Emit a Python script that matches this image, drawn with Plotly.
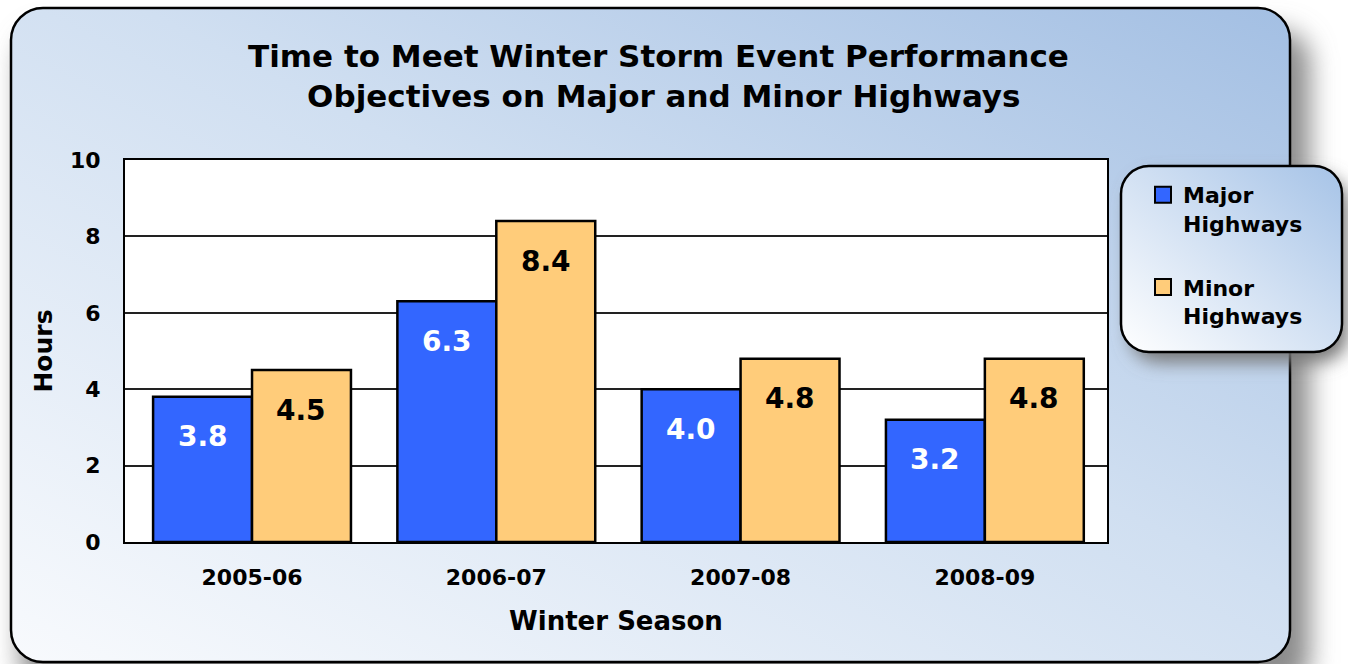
import base64
import plotly.graph_objects as go

seasons = ["2005-06", "2006-07", "2007-08", "2008-09"]
major = [3.8, 6.3, 4.0, 3.2]
minor = [4.5, 8.4, 4.8, 4.8]
series_names = ["Major<br>Highways", "Minor<br>Highways"]
y_ticks = [0, 2, 4, 6, 8, 10]

W, H = 1348, 664
ML, MR, MT, MB = 125, 241, 160, 122
PW, PH = W - ML - MR, H - MT - MB
X_RANGE = [-0.52, 3.5]
BARGAP = 0.19

FONT = "'DejaVu Sans', sans-serif"
BLUE = "#3366ff"
YELLOW = "#ffcc7a"

svg = f'''<svg xmlns="http://www.w3.org/2000/svg" width="{W}" height="{H}" viewBox="0 0 {W} {H}">
<defs>
<linearGradient id="g1" x1="0" y1="1" x2="1" y2="0">
<stop offset="0" stop-color="#f8fafd"/>
<stop offset="0.55" stop-color="#d0dff1"/>
<stop offset="1" stop-color="#a3bfe3"/>
</linearGradient>
<linearGradient id="g2" x1="0" y1="1" x2="1" y2="0">
<stop offset="0" stop-color="#ffffff"/>
<stop offset="1" stop-color="#a6c3e7"/>
</linearGradient>
<filter id="sh" x="-20%" y="-20%" width="140%" height="140%"><feGaussianBlur stdDeviation="13"/></filter>
<filter id="sh2" x="-30%" y="-30%" width="160%" height="160%"><feGaussianBlur stdDeviation="9"/></filter>
</defs>
<rect x="0" y="0" width="{W}" height="{H}" fill="#ffffff"/>
<rect x="20" y="30" width="1290" height="660" rx="32" fill="#8c8c8c" filter="url(#sh)"/>
<rect x="11" y="8" width="1279" height="654" rx="32" fill="url(#g1)" stroke="#000" stroke-width="2.5"/>
<rect x="1130" y="176" width="218" height="186" rx="28" fill="#777" filter="url(#sh2)"/>
<rect x="1121" y="166" width="221" height="186" rx="28" fill="url(#g2)" stroke="#000" stroke-width="2.5"/>
</svg>'''
src = "data:image/svg+xml;base64," + base64.b64encode(svg.encode()).decode()

fig = go.Figure()
for name, vals, col, grp in [(series_names[0], major, BLUE, "a"), (series_names[1], minor, YELLOW, "b")]:
    fig.add_trace(go.Bar(x=seasons, y=vals, name=name, legendgroup=grp, showlegend=False,
                         marker=dict(color=col, line=dict(color="black", width=2.5))))
    # legend entry with a larger square swatch
    fig.add_trace(go.Scatter(x=[None], y=[None], mode="markers", name=name, legendgroup=grp,
                             marker=dict(symbol="square", size=16, color=col,
                                         line=dict(color="black", width=2))))

# value labels near the top of each bar
unit_px = PW / (X_RANGE[1] - X_RANGE[0])
bar_w = unit_px * (1 - BARGAP) / 2
for vals, sh, col in [(major, -bar_w / 2, "white"), (minor, bar_w / 2, "black")]:
    for s, v in zip(seasons, vals):
        fig.add_annotation(x=s, y=v, text=f"{v:.1f}", showarrow=False, xshift=sh, yshift=-40,
                           yanchor="middle", font=dict(family=FONT, size=28, color=col, weight="bold"))

fig.add_annotation(text="Time to Meet Winter Storm Event Performance<br> Objectives on Major and Minor Highways",
                   xref="paper", yref="paper", x=(658 - ML) / PW, y=1 + (MT - 76) / PH,
                   xanchor="center", yanchor="middle", showarrow=False,
                   font=dict(family=FONT, size=31, color="black", weight="bold"))

fig.update_layout(
    width=W, height=H,
    margin=dict(l=ML, r=MR, t=MT, b=MB),
    paper_bgcolor="white", plot_bgcolor="white",
    barmode="group", bargap=BARGAP, bargroupgap=0,
    font=dict(family=FONT, color="black"),
    legend=dict(x=(1143 - ML) / PW, y=1 - (174 - MT) / PH, xanchor="left", yanchor="top",
                bgcolor="rgba(0,0,0,0)", traceorder="grouped", tracegroupgap=32, valign="top",
                font=dict(family=FONT, size=22, color="black", weight="bold"), itemwidth=30),
    xaxis=dict(type="category", range=X_RANGE, showline=True, linecolor="black", linewidth=2, mirror=True,
               ticks="", ticklabelstandoff=15,
               tickfont=dict(family=FONT, size=22, color="black", weight="bold"),
               title=dict(text="Winter Season", standoff=22,
                          font=dict(family=FONT, size=26, color="black", weight="bold"))),
    yaxis=dict(range=[0, 10], tickvals=y_ticks, showline=True, linecolor="black", linewidth=2, mirror=True,
               showgrid=True, gridcolor="#222", gridwidth=1.5, zeroline=False, ticks="",
               ticklabelstandoff=18,
               tickfont=dict(family=FONT, size=22, color="black", weight="bold"),
               title=dict(text="Hours", standoff=10,
                          font=dict(family=FONT, size=25, color="black", weight="bold"))),
    shapes=[dict(type="rect", xref="paper", yref="paper", x0=0, x1=1, y0=0, y1=1,
                 fillcolor="white", line=dict(width=0), layer="below")],
    images=[dict(source=src, xref="paper", yref="paper", x=-ML / PW, y=1 + MT / PH,
                 sizex=W / PW, sizey=H / PH, xanchor="left", yanchor="top",
                 sizing="stretch", layer="below")],
)

fig.write_html("out.html", config={"displayModeBar": False},
               post_script="document.body.style.margin='0';")
